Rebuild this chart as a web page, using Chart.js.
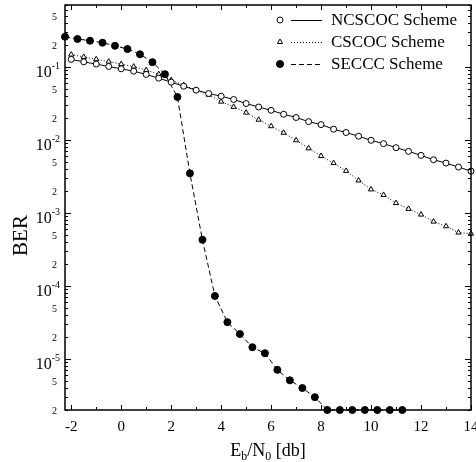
<!DOCTYPE html>
<html>
<head>
<meta charset="utf-8">
<script src="https://cdn.jsdelivr.net/npm/chart.js@4.4.0/dist/chart.umd.min.js"></script>
<style>
body { margin: 0; background: #fff; }
#wrap { width: 476px; height: 462px; }
</style>
</head>
<body>
<div id="wrap"><canvas id="berChart" width="476" height="462"></canvas></div>
<script>
// ========================
// DATA
// ========================
const ebnoCoded = [-2, -1.5, -1, -0.5, 0, 0.5, 1, 1.5, 2, 2.5, 3, 3.5, 4, 4.5, 5, 5.5, 6,
    6.5, 7, 7.5, 8, 8.5, 9, 9.5, 10, 10.5, 11, 11.5, 12, 12.5, 13, 13.5, 14];
const berNCSCOC = [0.1276, 0.118, 0.110, 0.102, 0.0948, 0.088, 0.0794, 0.0706, 0.0622, 0.0548,
    0.0483, 0.0435, 0.0399, 0.0360, 0.0317, 0.0284, 0.0256, 0.0226, 0.0204, 0.0179, 0.0163,
    0.0141, 0.0127, 0.0113, 0.00993, 0.00894, 0.00787, 0.00700, 0.00617, 0.00538, 0.00484,
    0.00427, 0.00376];
const berCSCOC = [0.1485, 0.138, 0.128, 0.119, 0.110, 0.1016, 0.091, 0.0801, 0.0663, 0.0566,
    0.0483, 0.0419, 0.0336, 0.0285, 0.0238, 0.0190, 0.0155, 0.0126, 0.00993, 0.00771, 0.00604,
    0.00484, 0.00378, 0.00280, 0.00211, 0.00177, 0.00137, 0.00114, 0.000953, 0.000764,
    0.000659, 0.000540, 0.000523];

const ebnoSECCC = [-2.25, -1.75, -1.25, -0.75, -0.25, 0.25, 0.75, 1.25, 1.75, 2.25, 2.75, 3.25,
    3.75, 4.25, 4.75, 5.25, 5.75, 6.25, 6.75, 7.25, 7.75, 8.25, 8.75, 9.25, 9.75, 10.25, 10.75, 11.25];
const berSECCC = [0.261, 0.243, 0.230, 0.216, 0.196, 0.177, 0.150, 0.117, 0.080, 0.039,
    3.5e-3, 4.3e-4, 7.3e-5, 3.2e-5, 2.2e-5, 1.45e-5, 1.2e-5, 7.1e-6, 5.1e-6, 4.0e-6, 3.0e-6,
    2e-6, 2e-6, 2e-6, 2e-6, 2e-6, 2e-6, 2e-6];

const seriesNames = ['NCSCOC Scheme', 'CSCOC Scheme', 'SECCC Scheme'];

const xMajorTicks = [-2, 0, 2, 4, 6, 8, 10, 12, 14];
const xMinorTicks = [-1, 1, 3, 5, 7, 9, 11, 13];
const yDecades = [-1, -2, -3, -4, -5];
const yMantissaLabels = [2, 5];

const SERIF = '"Liberation Serif", "Times New Roman", serif';

function toPoints(xs, ys) {
    return xs.map(function(x, i) { return { x: x, y: ys[i] }; });
}

// ========================
// FRAME, TICKS, LABELS, LEGEND
// ========================
const paperAxes = {
    id: 'paperAxes',
    afterDraw(chart) {
        const ctx = chart.ctx;
        const area = chart.chartArea;
        const xs = chart.scales.x;
        const ys = chart.scales.y;

        ctx.save();
        ctx.strokeStyle = '#000';
        ctx.fillStyle = '#000';

        // box
        ctx.lineWidth = 1.5;
        ctx.strokeRect(area.left, area.top, area.right - area.left, area.bottom - area.top);

        // x ticks (bottom and top, pointing inward)
        ctx.lineWidth = 1;
        function xTick(v, len) {
            const px = Math.round(xs.getPixelForValue(v)) + 0.5;
            ctx.beginPath();
            ctx.moveTo(px, area.bottom); ctx.lineTo(px, area.bottom - len);
            ctx.moveTo(px, area.top); ctx.lineTo(px, area.top + len);
            ctx.stroke();
        }
        xMajorTicks.forEach(function(v) { xTick(v, 5); });
        xMinorTicks.forEach(function(v) { xTick(v, 3); });

        // y ticks (left and right)
        function yTick(v, len) {
            const py = Math.round(ys.getPixelForValue(v)) + 0.5;
            if (py < area.top || py > area.bottom + 1) return;
            ctx.beginPath();
            ctx.moveTo(area.left, py); ctx.lineTo(area.left + len, py);
            ctx.moveTo(area.right, py); ctx.lineTo(area.right - len, py);
            ctx.stroke();
        }
        for (let e = -6; e <= 0; e++) {
            for (let m = 1; m <= 9; m++) {
                const v = m * Math.pow(10, e);
                if (v < ys.min * 0.999 || v > ys.max) continue;
                yTick(v, m === 1 ? 6 : 3);
            }
        }

        // x tick labels
        ctx.font = '15px ' + SERIF;
        ctx.textAlign = 'center';
        ctx.textBaseline = 'alphabetic';
        xMajorTicks.forEach(function(v) {
            ctx.fillText(String(v), xs.getPixelForValue(v), area.bottom + 21);
        });

        // y tick labels: 10^n at decades, 2 and 5 between
        ctx.textAlign = 'right';
        yDecades.forEach(function(d) {
            const py = ys.getPixelForValue(Math.pow(10, d));
            ctx.font = '10px ' + SERIF;
            const sup = String(d);
            const supW = ctx.measureText(sup).width;
            ctx.fillText(sup, area.left - 5, py + 2);
            ctx.font = '16px ' + SERIF;
            ctx.fillText('10', area.left - 5 - supW, py + 10);
        });
        ctx.font = '10px ' + SERIF;
        for (let e = -6; e <= 0; e++) {
            yMantissaLabels.forEach(function(m) {
                const v = m * Math.pow(10, e);
                if (v < ys.min * 0.999 || v > ys.max) return;
                ctx.fillText(String(m), area.left - 8, ys.getPixelForValue(v) + 4);
            });
        }

        // axis titles
        ctx.textAlign = 'left';
        const pieces = [
            ['E', 18, 0], ['b', 12, 4], ['/N', 18, 0], ['0', 12, 4], [' [db]', 18, 0]
        ];
        let total = 0;
        pieces.forEach(function(p) {
            ctx.font = p[1] + 'px ' + SERIF;
            total += ctx.measureText(p[0]).width;
        });
        let tx = (area.left + area.right) / 2 - total / 2;
        pieces.forEach(function(p) {
            ctx.font = p[1] + 'px ' + SERIF;
            ctx.fillText(p[0], tx, 456 + p[2]);
            tx += ctx.measureText(p[0]).width;
        });

        ctx.save();
        ctx.translate(27, (area.top + area.bottom) / 2 + 28);
        ctx.rotate(-Math.PI / 2);
        ctx.font = '21px ' + SERIF;
        ctx.textAlign = 'center';
        ctx.fillText('BER', 0, 0);
        ctx.restore();

        // legend
        const rows = [20, 42, 64];
        chart.data.datasets.forEach(function(ds, i) {
            const y = rows[i];
            ctx.lineWidth = 1;
            ctx.setLineDash(ds.borderDash || []);
            ctx.beginPath();
            ctx.moveTo(291, y + 0.5); ctx.lineTo(322, y + 0.5);
            ctx.stroke();
            ctx.setLineDash([]);
            ctx.fillStyle = ds.pointBackgroundColor;
            Chart.helpers.drawPoint(ctx, {
                pointStyle: ds.pointStyle,
                radius: ds.pointRadius,
                borderWidth: 1,
                rotation: 0
            }, 280, y);
            ctx.fillStyle = '#000';
            ctx.font = '17px ' + SERIF;
            ctx.textAlign = 'left';
            ctx.fillText(ds.label, 331, y + 5);
        });

        ctx.restore();
    }
};

// ========================
// CHART
// ========================
new Chart(document.getElementById('berChart'), {
    type: 'line',
    data: {
        datasets: [{
            label: seriesNames[0],
            data: toPoints(ebnoCoded, berNCSCOC),
            borderColor: '#000',
            borderWidth: 1,
            pointStyle: 'circle',
            pointRadius: 3,
            pointBorderWidth: 1,
            pointBorderColor: '#000',
            pointBackgroundColor: '#fff',
            clip: false
        }, {
            label: seriesNames[1],
            data: toPoints(ebnoCoded, berCSCOC),
            borderColor: '#000',
            borderWidth: 1,
            borderDash: [1, 2],
            pointStyle: 'triangle',
            pointRadius: 3,
            pointBorderWidth: 1,
            pointBorderColor: '#000',
            pointBackgroundColor: '#fff',
            clip: false
        }, {
            label: seriesNames[2],
            data: toPoints(ebnoSECCC, berSECCC),
            borderColor: '#000',
            borderWidth: 1,
            borderDash: [5, 3],
            pointStyle: 'circle',
            pointRadius: 3.5,
            pointBorderWidth: 1,
            pointBorderColor: '#000',
            pointBackgroundColor: '#000',
            clip: false
        }]
    },
    options: {
        responsive: false,
        animation: false,
        events: [],
        layout: { padding: { left: 65, right: 5, top: 5, bottom: 52 } },
        scales: {
            x: { type: 'linear', min: -2.25, max: 14, display: false },
            y: { type: 'logarithmic', min: 2e-6, max: 0.71, display: false }
        },
        plugins: {
            legend: { display: false },
            tooltip: { enabled: false }
        }
    },
    plugins: [paperAxes]
});
</script>
</body>
</html>
